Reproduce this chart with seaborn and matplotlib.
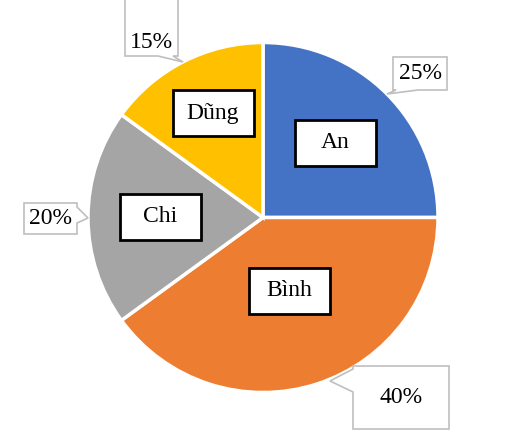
import matplotlib
matplotlib.use("Agg")
import matplotlib.pyplot as plt
from matplotlib.patches import Rectangle, Polygon
import seaborn as sns

# Data
names = ["An", "Bình", "Chi", "Dũng"]
shares = [25, 40, 20, 15]
pct_labels = ["25%", "40%", "20%", "15%"]
colors = ["#4472C4", "#ED7D31", "#A5A5A5", "#FFC000"]

sns.set_theme(style="white")
plt.rcParams["font.family"] = ["Liberation Serif", "DejaVu Serif"]
plt.rcParams["text.color"] = "black"

W, H = 524, 436
fig = plt.figure(figsize=(W / 100, H / 100), dpi=100)
ax = fig.add_axes([0, 0, 1, 1])

def Y(yp):
    return H - yp

cx, cy, r = 263, 217.5, 175
ax.pie(shares, colors=colors, startangle=90, counterclock=False,
       center=(cx, Y(cy)), radius=r, frame=True,
       wedgeprops=dict(edgecolor="white", linewidth=2.5))
ax.set_xlim(0, W)
ax.set_ylim(0, H)
ax.set_aspect("equal")
ax.axis("off")

# name labels (pixel centres), boxes 81x46
name_pos = [(335, 143), (289, 291), (160, 217), (213, 113)]
for (x, y), n in zip(name_pos, names):
    ax.add_patch(Rectangle((x - 40.5, Y(y) - 23), 81, 46, facecolor="white",
                           edgecolor="black", linewidth=2, zorder=5))
    ax.text(x, Y(y), n, ha="center", va="center", fontsize=17,
            color="black", zorder=6)

# percentage callouts: box (x0, y0, x1, y1) in pixels, pointer side, base range, tip
callouts = [
    ((393, 57, 447, 90), "bottom", (396, 418), (387, 94)),
    ((353, 366, 449, 429), "left", (369, 392), (330, 381)),
    ((24, 203, 77, 234), "right", (207, 223), (88, 218)),
    ((125, -5, 178, 56), "bottom", (158, 173), (183, 62)),
]
for (box, side, (b0, b1), (tx, ty)), lab in zip(callouts, pct_labels):
    x0, y0, x1, y1 = box
    if side == "bottom":
        pts = [(x0, y0), (x1, y0), (x1, y1), (b1, y1), (tx, ty), (b0, y1), (x0, y1)]
    elif side == "left":
        pts = [(x0, y0), (x1, y0), (x1, y1), (x0, y1), (x0, b1), (tx, ty), (x0, b0)]
    else:
        pts = [(x0, y0), (x1, y0), (x1, b0), (tx, ty), (x1, b1), (x1, y1), (x0, y1)]
    ax.add_patch(Polygon([(px, Y(py)) for px, py in pts], closed=True,
                         facecolor="white", edgecolor="#BFBFBF", linewidth=1.2, zorder=5))
    ty_text = (y0 + y1) / 2 if y0 > 0 else 43
    ax.text((x0 + x1) / 2, Y(ty_text), lab, ha="center", va="center",
            fontsize=17, color="black", zorder=6)

fig.savefig("out.png", dpi=100)
